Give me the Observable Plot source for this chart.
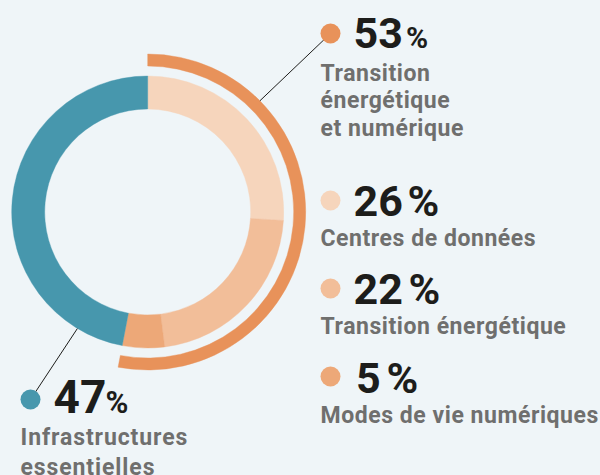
<!DOCTYPE html>
<html>
<head>
<meta charset="utf-8">
<script src="https://cdn.jsdelivr.net/npm/d3@7"></script>
<script src="https://cdn.jsdelivr.net/npm/@observablehq/plot@0.6"></script>
<style>
  html, body { margin: 0; padding: 0; background: #eff5f8; }
  #chart { width: 600px; height: 475px; overflow: hidden; }
  #chart svg .lbl text { letter-spacing: 0.55px; }
  #chart svg .lblL text { letter-spacing: 0.9px; }
</style>
</head>
<body>
<div id="chart"></div>
<script>
// ---- data ----
const categories = ["Centres de données", "Transition énergétique", "Modes de vie numériques", "Infrastructures essentielles"];
const shares = [26, 22, 5, 47];
const sliceColors = ["#f6d5bc", "#f2be99", "#eda878", "#4797ad"];
const groupName = "Transition énergétique et numérique";
const groupMembers = ["Centres de données", "Transition énergétique", "Modes de vie numériques"];
const groupColor = "#e8925a";
const displayNames = {
  "Transition énergétique et numérique": "Transition\nénergétique\net numérique",
  "Centres de données": "Centres de données",
  "Transition énergétique": "Transition énergétique",
  "Modes de vie numériques": "Modes de vie numériques",
  "Infrastructures essentielles": "Infrastructures\nessentielles"
};

// ---- layout (pixels) ----
const CX = 147.7, CY = 212;
const R_IN = 103, R_OUT = 136, RING_IN = 146, RING_OUT = 158;
const FONT = "Roboto, 'DejaVu Sans', sans-serif";
const LABEL_SIZE = 23;
const legendLayout = [
  {key: groupName, dot: [330, 33], num: [353, 47.5], numSize: 43, pct: [405.5, 47.5], pctSize: 30, lab: [320, 80], side: "right"},
  {key: categories[0], dot: [330, 200], num: [353, 215], numSize: 43, pct: [407, 215], pctSize: 43, lab: [320, 245], side: "right"},
  {key: categories[1], dot: [330, 288], num: [353, 303], numSize: 43, pct: [408, 303], pctSize: 43, lab: [320, 333], side: "right"},
  {key: categories[2], dot: [330, 376], num: [355.5, 392], numSize: 43, pct: [386, 392], pctSize: 43, lab: [320, 422], side: "right"},
  {key: categories[3], dot: [30, 399], num: [53, 412], numSize: 46, pct: [105, 412], pctSize: 31, lab: [20, 444.3], side: "left"}
];
const leaders = [ // angle in degrees (clockwise from 12 o'clock), radius at which the line starts
  {key: groupName, angle: 45, r: RING_OUT},
  {key: categories[3], angle: 211.4, r: R_OUT}
];

// ---- derived ----
const valueOf = k => k === groupName
  ? d3.sum(groupMembers, m => shares[categories.indexOf(m)])
  : shares[categories.indexOf(k)];
const sliceData = categories.map((c, i) => ({category: c, value: shares[i]}));
const pie = d3.pie().sort(null).value(d => d.value);
const sliceArcs = pie(sliceData);
const groupArc = pie([{category: groupName, value: valueOf(groupName)}, {category: null, value: 100 - valueOf(groupName)}])[0];

const legend = legendLayout.map(d => ({...d, value: valueOf(d.key), text: displayNames[d.key]}));
const leaderLines = leaders.map(l => {
  const a = l.angle * Math.PI / 180;
  const target = legendLayout.find(d => d.key === l.key).dot;
  return {key: l.key, x1: CX + l.r * Math.sin(a), y1: CY - l.r * Math.cos(a), x2: target[0], y2: target[1]};
});

function arcMark(items, r0, r1) {
  return (index, scales) => {
    const k = scales.x(1) - scales.x(0);
    const arc = d3.arc().innerRadius(r0 * k).outerRadius(r1 * k);
    const g = d3.create("svg:g").attr("transform", `translate(${scales.x(CX)},${scales.y(CY)})`);
    g.selectAll("path").data(items).join("path")
      .attr("d", arc)
      .attr("fill", d => scales.color(d.data.category))
      .attr("stroke", d => scales.color(d.data.category))
      .attr("stroke-width", 0.4);
    return g.node();
  };
}

// lineAnchor "top" puts the first baseline 0.71 * lineHeight em below y; cancel it so y is the baseline
const labelOpts = (lh, cls) => ({x: d => d.lab[0], y: d => d.lab[1], text: "text", fontSize: LABEL_SIZE,
  lineHeight: lh, dy: -0.71 * lh * LABEL_SIZE, className: cls,
  textAnchor: "start", lineAnchor: "top", fontWeight: "bold", fill: "#6f6f6e", fontFamily: FONT});

const chart = Plot.plot({
  width: 600,
  height: 475,
  margin: 0,
  style: {background: "transparent", fontFamily: FONT},
  x: {type: "linear", domain: [0, 600], range: [0, 600], axis: null},
  y: {type: "linear", domain: [0, 475], range: [0, 475], axis: null},
  color: {domain: [...categories, groupName], range: [...sliceColors, groupColor]},
  marks: [
    arcMark(sliceArcs, R_IN, R_OUT),
    arcMark([groupArc], RING_IN, RING_OUT),
    Plot.link(leaderLines, {x1: "x1", y1: "y1", x2: "x2", y2: "y2", stroke: "#1d1d1b", strokeWidth: 1}),
    Plot.dot(legend, {x: d => d.dot[0], y: d => d.dot[1], r: 10, fill: "key"}),
    Plot.text(legend, {x: d => d.num[0], y: d => d.num[1], text: d => String(d.value), fontSize: d => d.numSize,
      textAnchor: "start", lineAnchor: "bottom", fontWeight: "bold", fill: "#1d1d1b", fontFamily: FONT}),
    Plot.text(legend, {x: d => d.pct[0], y: d => d.pct[1], text: () => "%", fontSize: d => d.pctSize,
      textAnchor: "start", lineAnchor: "bottom", fontWeight: "bold", fill: "#1d1d1b", fontFamily: FONT}),
    Plot.text(legend.filter(d => d.side === "right"), labelOpts(1.2, "lbl")),
    Plot.text(legend.filter(d => d.side === "left"), labelOpts(1.3, "lblL"))
  ]
});
document.getElementById("chart").append(chart);
</script>
</body>
</html>
